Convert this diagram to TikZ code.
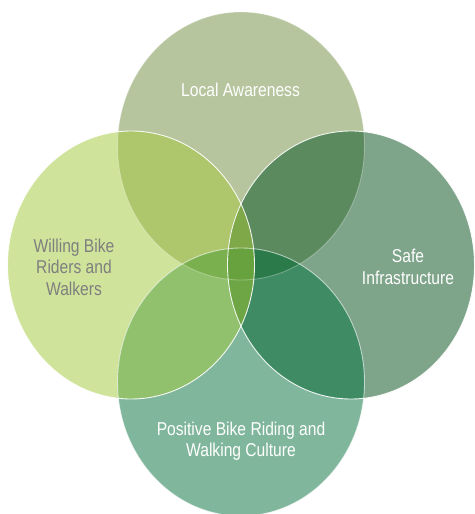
\documentclass[tikz,border=0pt]{standalone}
\usepackage{fontspec}
\newfontfamily\labelfont[FakeStretch=0.84]{Liberation Sans}
\begin{document}
\begin{tikzpicture}[x=1pt,y=-1pt,
  lbl/.style={inner sep=0pt,align=center,
    font={\labelfont\fontsize{18.6}{21.5}\selectfont}},
  rim/.style={draw=white,line width=0.9pt}]
\definecolor{cT}{HTML}{B6C59E}
\definecolor{cL}{HTML}{D0E39A}
\definecolor{cR}{HTML}{7EA48A}
\definecolor{cB}{HTML}{80B69C}
\definecolor{cTL}{HTML}{AEC76C}
\definecolor{cTR}{HTML}{5B8A5F}
\definecolor{cLB}{HTML}{91C16C}
\definecolor{cRB}{HTML}{3F8C64}
\definecolor{cTLR}{HTML}{7FA848}
\definecolor{cTLB}{HTML}{7BB04F}
\definecolor{cTRB}{HTML}{2B7A4A}
\definecolor{cLRB}{HTML}{6EA646}
\definecolor{cAll}{HTML}{68A23E}
\definecolor{txtgrey}{HTML}{7F7F7F}
\useasboundingbox (0,0) rectangle (474,514);
% the four ellipses
\def\eT{(241,146) ellipse [x radius=123.5pt, y radius=134pt]}
\def\eL{(131,265) ellipse [x radius=123.5pt, y radius=134pt]}
\def\eR{(351,265) ellipse [x radius=123.5pt, y radius=134pt]}
\def\eB{(241,382) ellipse [x radius=123.5pt, y radius=134pt]}
% single areas
\fill[cT] \eT;
\fill[cL] \eL;
\fill[cR] \eR;
\fill[cB] \eB;
% pairwise overlaps
\begin{scope}\clip \eT; \fill[cTL] \eL; \fill[cTR] \eR; \end{scope}
\begin{scope}\clip \eB; \fill[cLB] \eL; \fill[cRB] \eR; \end{scope}
% triple overlaps
\begin{scope}\clip \eT; \clip \eL; \fill[cTLR] \eR; \fill[cTLB] \eB; \end{scope}
\begin{scope}\clip \eT; \clip \eR; \fill[cTRB] \eB; \end{scope}
\begin{scope}\clip \eL; \clip \eR; \fill[cLRB] \eB; \end{scope}
% the centre, common to all four
\begin{scope}\clip \eT; \clip \eL; \clip \eR; \fill[cAll] \eB; \end{scope}
% white rims
\path[rim,draw opacity=0.3] \eT;
\path[rim,draw opacity=0.6] \eB;
\path[rim,draw opacity=0.9] \eL;
\path[rim,draw opacity=0.9] \eR;
% labels
\node[lbl,text=white,anchor=base] (aware) at (240.5,96.7) {Local Awareness};
\node[lbl,text=txtgrey] (willing) at (74,267) {Willing Bike\\Riders and\\Walkers};
\node[lbl,text=white] (safe) at (408,267) {Safe\\Infrastructure};
\node[lbl,text=white] (culture) at (241,441) {Positive Bike Riding and\\Walking Culture};
\end{tikzpicture}
\end{document}
